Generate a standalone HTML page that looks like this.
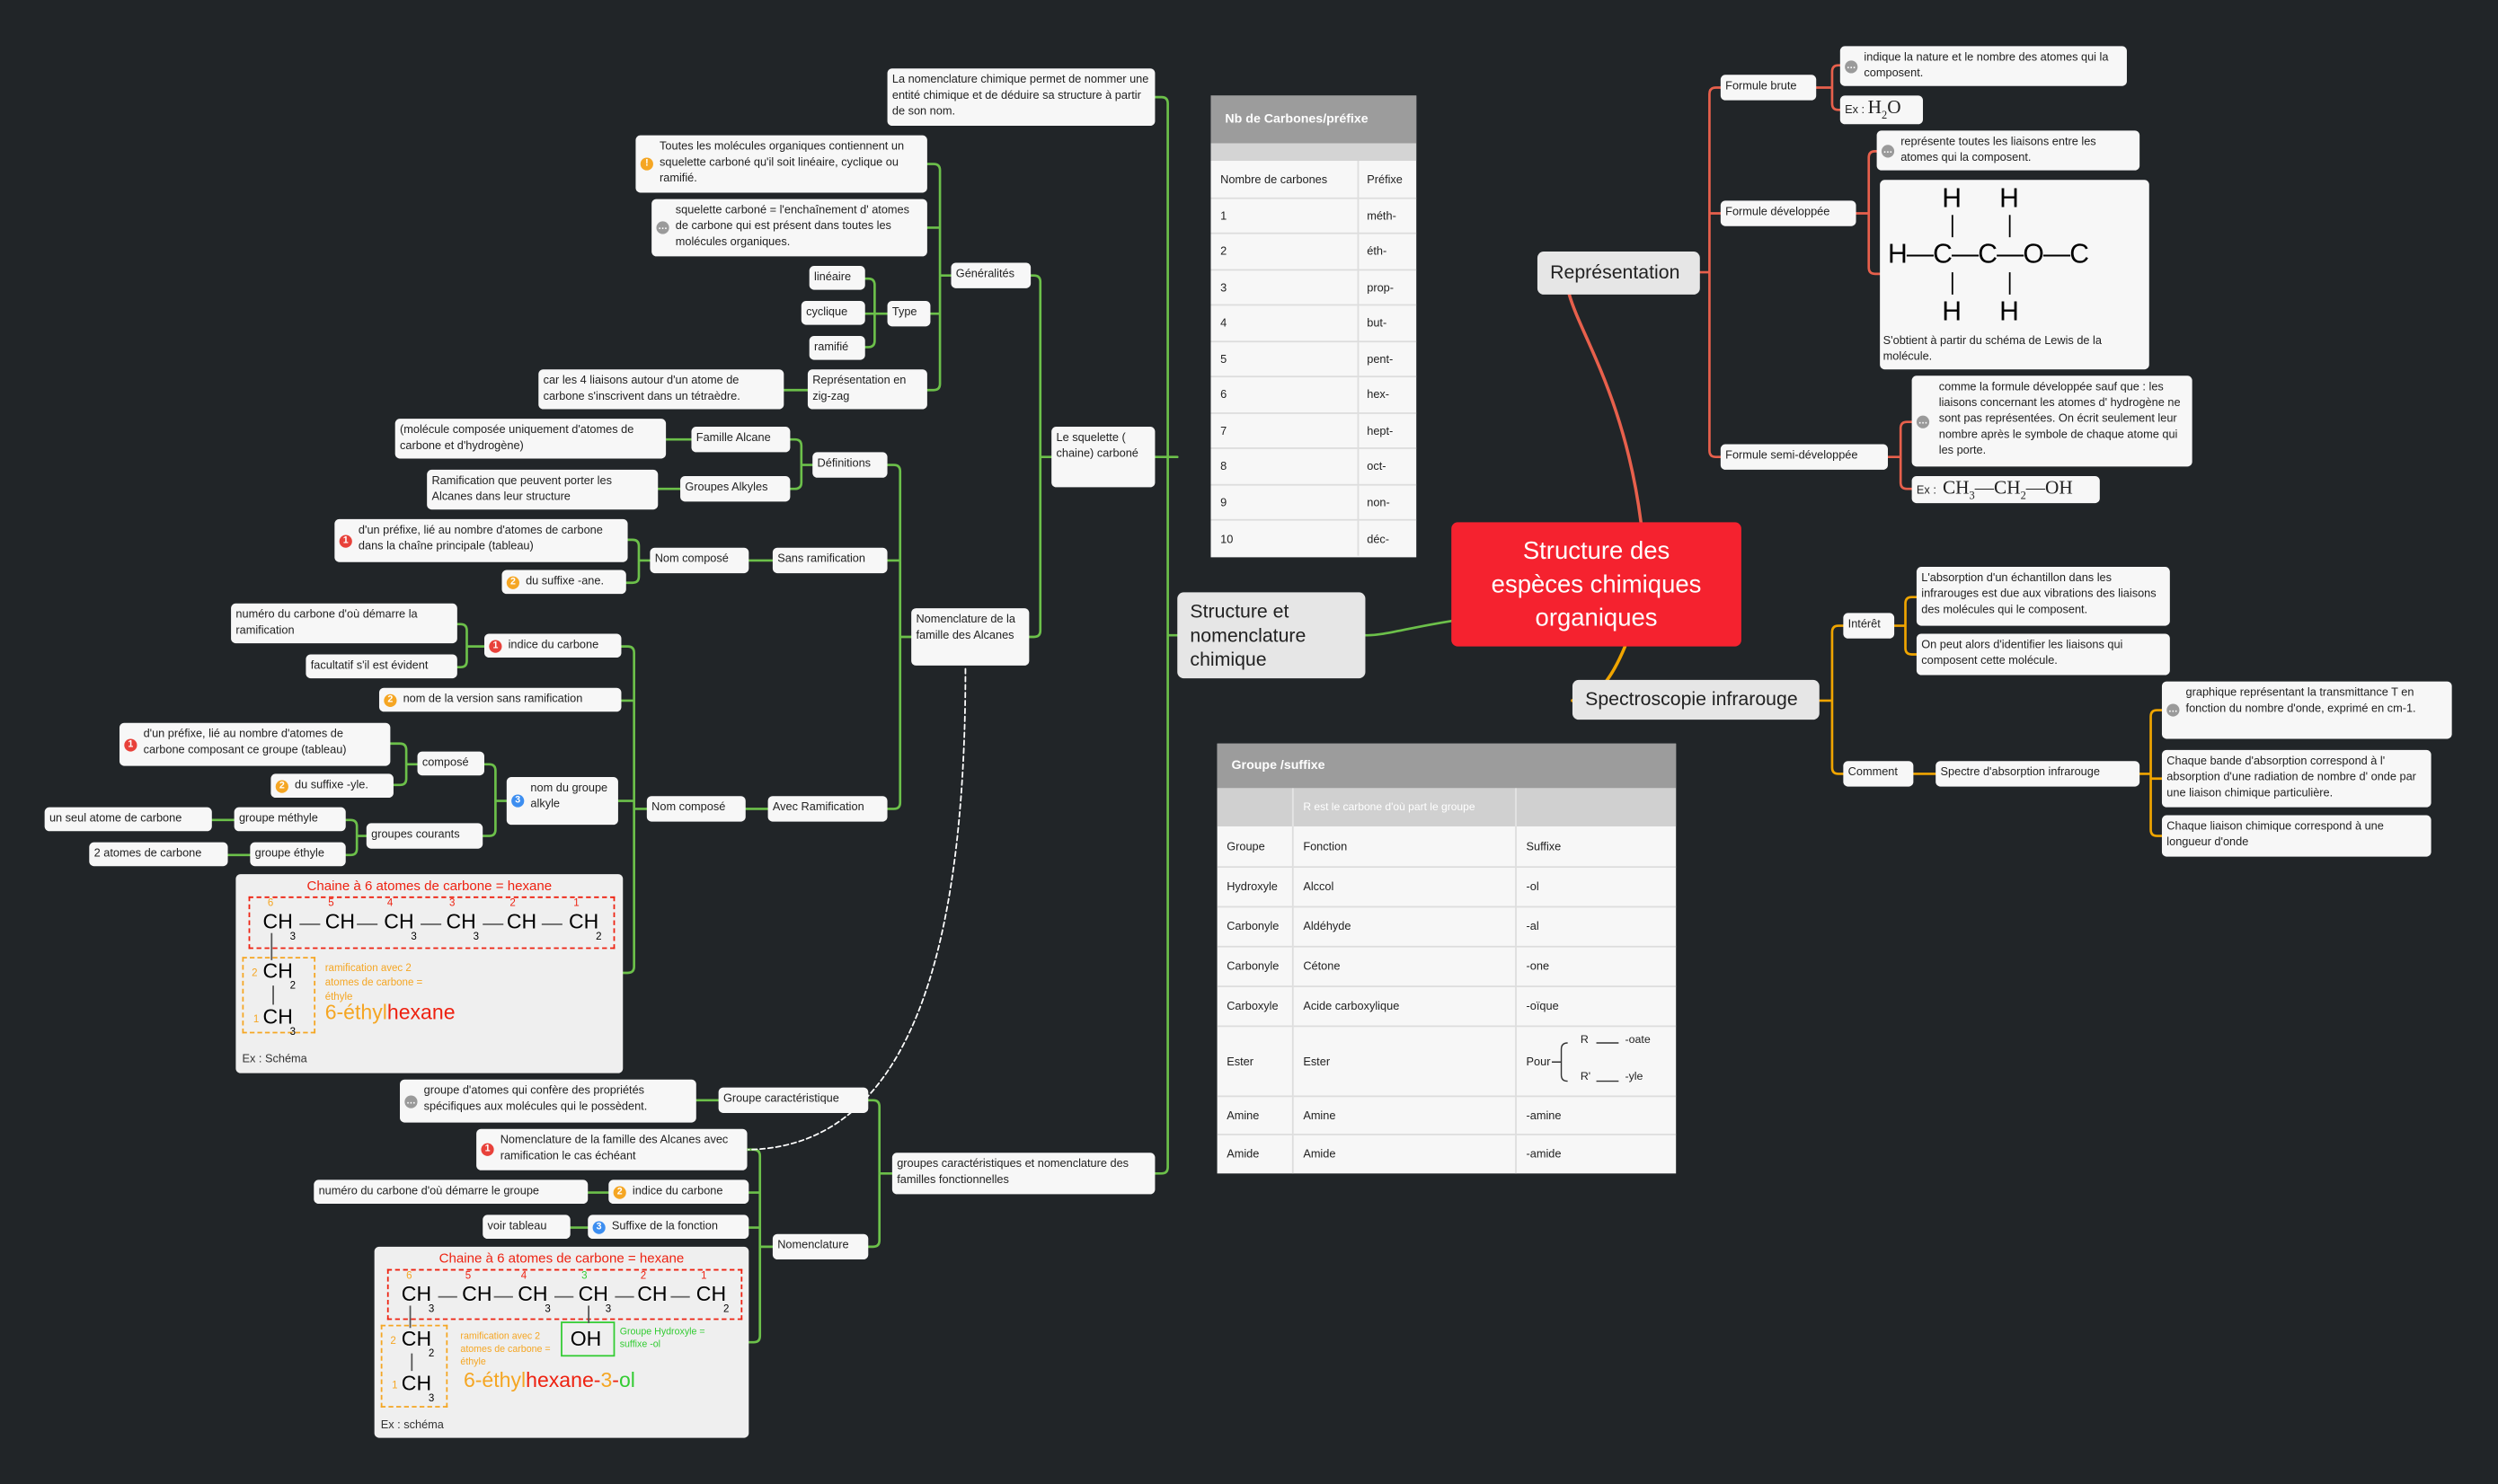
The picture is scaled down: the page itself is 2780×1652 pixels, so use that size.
<!DOCTYPE html>
<html><head><meta charset="utf-8">
<style>
html,body{margin:0;padding:0;width:2780px;height:1652px;overflow:hidden;background:#212528;}
#w{position:absolute;left:0;top:0;width:1568px;height:932px;transform:scale(1.773,1.7725);transform-origin:0 0;font-family:"Liberation Sans","DejaVu Sans",sans-serif;}
.n{position:absolute;background:#f7f7f7;border-radius:3px;font-size:7.2px;line-height:10px;color:#222;padding:2px 3px;box-sizing:border-box;overflow:hidden;}
.c{display:flex;align-items:center;}
.big{background:#e6e6e6;font-size:12px;line-height:15px;border-radius:4px;padding:4px 8px;}
.ic{position:absolute;left:3px;top:50%;margin-top:-4px;width:8px;height:8px;border-radius:50%;color:#fff;font-size:6px;line-height:8px;text-align:center;font-weight:bold;}
.r{background:#e8413a}.o{background:#f5a623}.b{background:#3d8ef0}.g{background:#9a9a9a}
.pi{padding-left:15px}
svg{position:absolute;left:0;top:0}
table{border-collapse:collapse;font-size:7.2px;color:#222}
.ch{position:absolute;font-size:13px;line-height:14px;color:#000;white-space:nowrap;font-family:"Liberation Sans",sans-serif}
.sb{position:absolute;font-size:6.5px;color:#000}
.num{position:absolute;font-size:6.5px;color:#e21}
.dash{position:absolute;height:1px;background:#666;width:13px}
</style></head><body><div id="w">
<svg width="1568" height="932" fill="none" stroke-linecap="round">
<g stroke="#6cc04a" stroke-width="1.5">
<path d="M911,390 C880,395 870,399 857,399"/>
<path d="M739,399 H733 M725,61 H729 Q733,61 733,65 V733 Q733,737 729,737 H725 M725,287 H739"/>
<path d="M660,287 H653 M647,173 H649 Q653,173 653,177 V396 Q653,400 649,400 H646"/>
<path d="M597,173 H590 M582,103 H586 Q590,103 590,107 V241 Q590,245 586,245 H582 M582,143 H590 M584,197 H590"/>
<path d="M557,197 H549 M543,175 H545 Q549,175 549,179 V214 Q549,218 545,218 H543 M543,197 H549"/>
<path d="M507,245 H492"/>
<path d="M572,400 H565 M557,292 H561 Q565,292 565,296 V504 Q565,508 561,508 H557 M557,352 H565"/>
<path d="M510,292 H503 M496,276 H499 Q503,276 503,280 V303 Q503,307 499,307 H496"/>
<path d="M434,276 H418 M427,307 H413 M485,352 H470 M482,508 H468"/>
<path d="M408,352 H401 M394,339 H397 Q401,339 401,343 V362 Q401,366 397,366 H393"/>
<path d="M406,508 H398 M390,406 H394 Q398,406 398,410 V607 Q398,611 394,611 H391 M390,440 H398 M388,503 H398"/>
<path d="M304,406 H293 M287,392 H289 Q293,392 293,396 V415 Q293,419 289,419 H287"/>
<path d="M318,503 H311 M304,480 H307 Q311,480 311,484 V521 Q311,525 307,525 H303"/>
<path d="M262,480 H255 M245,467 H251 Q255,467 255,471 V489 Q255,493 251,493 H247"/>
<path d="M230,525 H224 M217,515 H220 Q224,515 224,519 V533 Q224,537 220,537 H217"/>
<path d="M147,515 H133 M157,537 H143"/>
<path d="M560,737 H552 M545,691 H548 Q552,691 552,695 V779 Q552,783 548,783 H545"/>
<path d="M451,691 H437"/>
<path d="M485,783 H477 M469,722 H473 Q477,722 477,726 V839 Q477,843 473,843 H470 M470,749 H477 M470,771 H477"/>
<path d="M382,749 H369 M369,771 H358"/>
</g>
<g stroke="#e8604c" stroke-width="1.5">
<path d="M1030,328 C1020,250 992,210 985,185" stroke-width="2"/>
<path d="M1067,171 H1073 M1080,55 H1077 Q1073,55 1073,59 V283 Q1073,287 1077,287 H1080 M1073,134 H1080"/>
<path d="M1140,55 H1150 M1155,41 H1154 Q1150,41 1150,45 V65 Q1150,69 1154,69 H1155"/>
<path d="M1165,134 H1173 M1178,95 H1177 Q1173,95 1173,99 V168 Q1173,172 1177,172 H1180"/>
<path d="M1185,287 H1193 M1200,265 H1197 Q1193,265 1193,269 V303 Q1193,307 1197,307 H1200"/>
</g>
<g stroke="#f0a500" stroke-width="1.5">
<path d="M1020,406 C1010,430 1000,440 987,440" stroke-width="2"/>
<path d="M1142,440 H1150 M1157,393 H1154 Q1150,393 1150,397 V482 Q1150,486 1154,486 H1157"/>
<path d="M1189,393 H1196 M1203,375 H1200 Q1196,375 1196,379 V407 Q1196,411 1200,411 H1203"/>
<path d="M1201,486 H1215 M1343,486 H1350 M1357,446 H1354 Q1350,446 1350,450 V521 Q1350,525 1354,525 H1357 M1350,489 H1357"/>
</g>
<path d="M606,420 C606,600 570,720 470,722" stroke="#fff" stroke-width="1" stroke-dasharray="3,2"/>
</svg>

<div class="n c" style="left:911px;top:328px;width:182px;height:78px;background:#f5222f;color:#fff;font-size:15.5px;line-height:21px;text-align:center;justify-content:center;border-radius:4px;padding:0 14px">Structure des espèces chimiques organiques</div>
<div class="n big c" style="left:739px;top:372px;width:118px;height:54px">Structure et nomenclature chimique</div>
<div class="n big c" style="left:965px;top:158px;width:102px;height:27px">Représentation</div>
<div class="n big c" style="left:987px;top:427px;width:155px;height:25px">Spectroscopie infrarouge</div>

<div class="n" style="left:557px;top:43px;width:168px;height:36px">La nomenclature chimique permet de nommer une entité chimique et de déduire sa structure à partir de son nom.</div>
<div class="n" style="left:660px;top:268px;width:65px;height:38px">Le squelette ( chaine) carboné</div>
<div class="n" style="left:560px;top:724px;width:165px;height:26px">groupes caractéristiques et nomenclature des familles fonctionnelles</div>
<div class="n" style="left:597px;top:165px;width:50px;height:16px">Généralités</div>
<div class="n" style="left:572px;top:382px;width:74px;height:36px">Nomenclature de la famille des Alcanes</div>
<div class="n pi" style="left:399px;top:85px;width:183px;height:36px"><span class="ic o">!</span>Toutes les molécules organiques contiennent un squelette carboné qu'il soit linéaire, cyclique ou ramifié.</div>
<div class="n pi" style="left:409px;top:125px;width:173px;height:36px"><span class="ic g">…</span>squelette carboné = l'enchaînement d' atomes de carbone qui est présent dans toutes les molécules organiques.</div>
<div class="n" style="left:557px;top:189px;width:27px;height:16px">Type</div>
<div class="n" style="left:507px;top:232px;width:75px;height:25px">Représentation en zig-zag</div>
<div class="n" style="left:508px;top:167px;width:35px;height:15px">linéaire</div>
<div class="n" style="left:503px;top:189px;width:40px;height:15px">cyclique</div>
<div class="n" style="left:508px;top:211px;width:35px;height:15px">ramifié</div>
<div class="n" style="left:338px;top:232px;width:154px;height:25px">car les 4 liaisons autour d'un atome de carbone s'inscrivent dans un tétraèdre.</div>
<div class="n" style="left:510px;top:284px;width:47px;height:16px">Définitions</div>
<div class="n" style="left:485px;top:344px;width:72px;height:16px">Sans ramification</div>
<div class="n" style="left:482px;top:500px;width:75px;height:16px">Avec Ramification</div>
<div class="n" style="left:434px;top:268px;width:62px;height:16px">Famille Alcane</div>
<div class="n" style="left:427px;top:299px;width:69px;height:16px">Groupes Alkyles</div>
<div class="n" style="left:248px;top:263px;width:170px;height:25px">(molécule composée uniquement d'atomes de carbone et d'hydrogène)</div>
<div class="n" style="left:268px;top:295px;width:145px;height:25px">Ramification que peuvent porter les Alcanes dans leur structure</div>
<div class="n" style="left:408px;top:344px;width:62px;height:16px">Nom composé</div>
<div class="n pi" style="left:210px;top:326px;width:184px;height:27px"><span class="ic r">1</span>d'un préfixe, lié au nombre d'atomes de carbone dans la chaîne principale (tableau)</div>
<div class="n pi" style="left:315px;top:358px;width:78px;height:15px"><span class="ic o">2</span>du suffixe -ane.</div>
<div class="n" style="left:406px;top:500px;width:62px;height:16px">Nom composé</div>
<div class="n pi" style="left:304px;top:398px;width:86px;height:15px"><span class="ic r">1</span>indice du carbone</div>
<div class="n pi" style="left:238px;top:432px;width:152px;height:15px"><span class="ic o">2</span>nom de la version sans ramification</div>
<div class="n pi" style="left:318px;top:488px;width:70px;height:30px"><span class="ic b">3</span>nom du groupe alkyle</div>
<div class="n" style="left:145px;top:379px;width:142px;height:25px">numéro du carbone d'où démarre la ramification</div>
<div class="n" style="left:192px;top:411px;width:95px;height:15px">facultatif s'il est évident</div>
<div class="n" style="left:262px;top:472px;width:42px;height:15px">composé</div>
<div class="n pi" style="left:75px;top:454px;width:170px;height:27px"><span class="ic r">1</span>d'un préfixe, lié au nombre d'atomes de carbone composant ce groupe (tableau)</div>
<div class="n pi" style="left:170px;top:486px;width:77px;height:15px"><span class="ic o">2</span>du suffixe -yle.</div>
<div class="n" style="left:230px;top:517px;width:73px;height:16px">groupes courants</div>
<div class="n" style="left:147px;top:507px;width:70px;height:15px">groupe méthyle</div>
<div class="n" style="left:157px;top:529px;width:60px;height:15px">groupe éthyle</div>
<div class="n" style="left:28px;top:507px;width:105px;height:15px">un seul atome de carbone</div>
<div class="n" style="left:56px;top:529px;width:87px;height:15px">2 atomes de carbone</div>

<!-- schema 1 -->
<div class="n" style="left:148px;top:549px;width:243px;height:125px;background:#efefef;padding:0">
 <div style="position:absolute;left:0;width:243px;top:2px;text-align:center;color:#e21;font-size:8.5px">Chaine à 6 atomes de carbone = hexane</div>
 <div style="position:absolute;left:8px;top:14px;width:230px;height:33px;border:1px dashed #e21;box-sizing:border-box"></div>
 <div style="position:absolute;left:4px;top:52px;width:46px;height:48px;border:1px dashed #f5a623;box-sizing:border-box"></div>
 <span class="ch" style="left:17px;top:23px">CH</span><span class="sb" style="left:34px;top:35px">3</span>
 <div class="dash" style="left:40px;top:31px"></div>
 <span class="ch" style="left:56px;top:23px">CH</span>
 <div class="dash" style="left:76px;top:31px"></div>
 <span class="ch" style="left:93px;top:23px">CH</span><span class="sb" style="left:110px;top:35px">3</span>
 <div class="dash" style="left:116px;top:31px"></div>
 <span class="ch" style="left:132px;top:23px">CH</span><span class="sb" style="left:149px;top:35px">3</span>
 <div class="dash" style="left:155px;top:31px"></div>
 <span class="ch" style="left:170px;top:23px">CH</span>
 <div class="dash" style="left:192px;top:31px"></div>
 <span class="ch" style="left:209px;top:23px">CH</span><span class="sb" style="left:226px;top:35px">2</span>
 <span class="num" style="left:20px;top:14px;color:#f5a623">6</span>
 <span class="num" style="left:58px;top:14px">5</span>
 <span class="num" style="left:95px;top:14px">4</span>
 <span class="num" style="left:134px;top:14px">3</span>
 <span class="num" style="left:172px;top:14px">2</span>
 <span class="num" style="left:212px;top:14px">1</span>
 <div style="position:absolute;left:22px;top:37px;width:1px;height:17px;background:#555"></div>
 <span class="ch" style="left:17px;top:54px">CH</span><span class="sb" style="left:34px;top:66px">2</span>
 <div style="position:absolute;left:23px;top:70px;width:1px;height:12px;background:#555"></div>
 <span class="ch" style="left:17px;top:83px">CH</span><span class="sb" style="left:34px;top:95px">3</span>
 <span class="num" style="left:10px;top:58px;color:#f5a623">2</span>
 <span class="num" style="left:11px;top:87px;color:#f5a623">1</span>
 <div style="position:absolute;left:56px;top:55px;font-size:6.5px;line-height:9px;color:#f5a623;width:70px">ramification avec 2 atomes de carbone = éthyle</div>
 <div style="position:absolute;left:56px;top:82px;font-size:13px;color:#e21"><span style="color:#f5a623">6-éthyl</span>hexane</div>
 <div style="position:absolute;left:4px;top:111px;font-size:7.2px;color:#333">Ex : Schéma</div>
</div>

<div class="n" style="left:451px;top:683px;width:94px;height:16px">Groupe caractéristique</div>
<div class="n pi" style="left:251px;top:678px;width:186px;height:27px"><span class="ic g">…</span>groupe d'atomes qui confère des propriétés spécifiques aux molécules qui le possèdent.</div>
<div class="n" style="left:485px;top:775px;width:60px;height:16px">Nomenclature</div>
<div class="n pi" style="left:299px;top:709px;width:170px;height:26px"><span class="ic r">1</span>Nomenclature de la famille des Alcanes avec ramification le cas échéant</div>
<div class="n pi" style="left:382px;top:741px;width:88px;height:15px"><span class="ic o">2</span>indice du carbone</div>
<div class="n pi" style="left:369px;top:763px;width:101px;height:15px"><span class="ic b">3</span>Suffixe de la fonction</div>
<div class="n" style="left:197px;top:741px;width:172px;height:15px">numéro du carbone d'où démarre le groupe</div>
<div class="n" style="left:303px;top:763px;width:55px;height:15px">voir tableau</div>

<!-- schema 2 -->
<div class="n" style="left:235px;top:783px;width:235px;height:120px;background:#efefef;padding:0">
 <div style="position:absolute;left:0;width:235px;top:2px;text-align:center;color:#e21;font-size:8.5px">Chaine à 6 atomes de carbone = hexane</div>
 <div style="position:absolute;left:8px;top:14px;width:223px;height:32px;border:1px dashed #e21;box-sizing:border-box"></div>
 <div style="position:absolute;left:4px;top:49px;width:42px;height:52px;border:1px dashed #f5a623;box-sizing:border-box"></div>
 <div style="position:absolute;left:117px;top:47px;width:34px;height:22px;border:1px solid #3c3;box-sizing:border-box"></div>
 <span class="ch" style="left:17px;top:23px">CH</span><span class="sb" style="left:34px;top:35px">3</span>
 <div class="dash" style="left:40px;top:31px;width:12px"></div>
 <span class="ch" style="left:55px;top:23px">CH</span>
 <div class="dash" style="left:75px;top:31px;width:12px"></div>
 <span class="ch" style="left:90px;top:23px">CH</span><span class="sb" style="left:107px;top:35px">3</span>
 <div class="dash" style="left:113px;top:31px;width:12px"></div>
 <span class="ch" style="left:128px;top:23px">CH</span><span class="sb" style="left:145px;top:35px">3</span>
 <div class="dash" style="left:151px;top:31px;width:12px"></div>
 <span class="ch" style="left:165px;top:23px">CH</span>
 <div class="dash" style="left:186px;top:31px;width:12px"></div>
 <span class="ch" style="left:202px;top:23px">CH</span><span class="sb" style="left:219px;top:35px">2</span>
 <span class="num" style="left:20px;top:14px;color:#f5a623">6</span>
 <span class="num" style="left:57px;top:14px">5</span>
 <span class="num" style="left:92px;top:14px">4</span>
 <span class="num" style="left:130px;top:14px;color:#3c3">3</span>
 <span class="num" style="left:167px;top:14px">2</span>
 <span class="num" style="left:205px;top:14px">1</span>
 <div style="position:absolute;left:22px;top:37px;width:1px;height:14px;background:#555"></div>
 <div style="position:absolute;left:134px;top:37px;width:1px;height:11px;background:#555"></div>
 <span class="ch" style="left:123px;top:51px">OH</span>
 <span class="ch" style="left:17px;top:51px">CH</span><span class="sb" style="left:34px;top:63px">2</span>
 <div style="position:absolute;left:23px;top:67px;width:1px;height:11px;background:#555"></div>
 <span class="ch" style="left:17px;top:79px">CH</span><span class="sb" style="left:34px;top:91px">3</span>
 <span class="num" style="left:10px;top:55px;color:#f5a623">2</span>
 <span class="num" style="left:11px;top:83px;color:#f5a623">1</span>
 <div style="position:absolute;left:54px;top:53px;font-size:6px;line-height:8px;color:#f5a623;width:62px">ramification avec 2 atomes de carbone = éthyle</div>
 <div style="position:absolute;left:154px;top:50px;font-size:6px;line-height:8px;color:#3c3;width:60px">Groupe Hydroxyle = suffixe -ol</div>
 <div style="position:absolute;left:56px;top:79px;font-size:13px;color:#e21"><span style="color:#f5a623">6-éthyl</span>hexane-<span style="color:#f5a623">3</span>-<span style="color:#3c3">ol</span></div>
 <div style="position:absolute;left:4px;top:107px;font-size:7.2px;color:#333">Ex : schéma</div>
</div>

<!-- table 1 -->
<div style="position:absolute;left:760px;top:60px;width:129px;height:290px;background:#f7f7f7;overflow:hidden">
 <div style="height:30px;background:#9c9c9c;color:#fff;font-weight:bold;font-size:8px;line-height:30px;padding-left:9px">Nb de Carbones/préfixe</div>
 <div style="height:11px;background:#d4d4d4"></div>
 <table style="width:129px">
 <tr style="height:23px"><td style="width:85px;padding-left:6px;border-bottom:1px solid #ddd;border-right:1px solid #ddd">Nombre de carbones</td><td style="padding-left:5px;border-bottom:1px solid #ddd">Préfixe</td></tr>
 <tr style="height:22.5px"><td style="padding-left:6px;border-bottom:1px solid #ddd;border-right:1px solid #ddd">1</td><td style="padding-left:5px;border-bottom:1px solid #ddd">méth-</td></tr>
 <tr style="height:22.5px"><td style="padding-left:6px;border-bottom:1px solid #ddd;border-right:1px solid #ddd">2</td><td style="padding-left:5px;border-bottom:1px solid #ddd">éth-</td></tr>
 <tr style="height:22.5px"><td style="padding-left:6px;border-bottom:1px solid #ddd;border-right:1px solid #ddd">3</td><td style="padding-left:5px;border-bottom:1px solid #ddd">prop-</td></tr>
 <tr style="height:22.5px"><td style="padding-left:6px;border-bottom:1px solid #ddd;border-right:1px solid #ddd">4</td><td style="padding-left:5px;border-bottom:1px solid #ddd">but-</td></tr>
 <tr style="height:22.5px"><td style="padding-left:6px;border-bottom:1px solid #ddd;border-right:1px solid #ddd">5</td><td style="padding-left:5px;border-bottom:1px solid #ddd">pent-</td></tr>
 <tr style="height:22.5px"><td style="padding-left:6px;border-bottom:1px solid #ddd;border-right:1px solid #ddd">6</td><td style="padding-left:5px;border-bottom:1px solid #ddd">hex-</td></tr>
 <tr style="height:22.5px"><td style="padding-left:6px;border-bottom:1px solid #ddd;border-right:1px solid #ddd">7</td><td style="padding-left:5px;border-bottom:1px solid #ddd">hept-</td></tr>
 <tr style="height:22.5px"><td style="padding-left:6px;border-bottom:1px solid #ddd;border-right:1px solid #ddd">8</td><td style="padding-left:5px;border-bottom:1px solid #ddd">oct-</td></tr>
 <tr style="height:22.5px"><td style="padding-left:6px;border-bottom:1px solid #ddd;border-right:1px solid #ddd">9</td><td style="padding-left:5px;border-bottom:1px solid #ddd">non-</td></tr>
 <tr style="height:22.5px"><td style="padding-left:6px;border-right:1px solid #ddd">10</td><td style="padding-left:5px">déc-</td></tr>
 </table>
</div>

<!-- table 2 -->
<div style="position:absolute;left:764px;top:467px;width:288px;height:270px;background:#f7f7f7;overflow:hidden">
 <div style="height:28px;background:#9c9c9c;color:#fff;font-weight:bold;font-size:8px;line-height:28px;padding-left:9px">Groupe /suffixe</div>
 <table style="width:288px">
 <tr style="height:24px;background:#d0d0d0;color:#fff"><td style="width:45px;border-right:1px solid #e4e4e4"></td><td style="width:132px;padding-left:6px;border-right:1px solid #e4e4e4;font-size:6.8px">R est le carbone d'où part le groupe</td><td></td></tr>
 <tr style="height:25px"><td style="padding-left:6px;border-bottom:1px solid #ddd;border-right:1px solid #ddd">Groupe</td><td style="padding-left:6px;border-bottom:1px solid #ddd;border-right:1px solid #ddd">Fonction</td><td style="padding-left:6px;border-bottom:1px solid #ddd">Suffixe</td></tr>
 <tr style="height:25px"><td style="padding-left:6px;border-bottom:1px solid #ddd;border-right:1px solid #ddd">Hydroxyle</td><td style="padding-left:6px;border-bottom:1px solid #ddd;border-right:1px solid #ddd">Alccol</td><td style="padding-left:6px;border-bottom:1px solid #ddd">-ol</td></tr>
 <tr style="height:25px"><td style="padding-left:6px;border-bottom:1px solid #ddd;border-right:1px solid #ddd">Carbonyle</td><td style="padding-left:6px;border-bottom:1px solid #ddd;border-right:1px solid #ddd">Aldéhyde</td><td style="padding-left:6px;border-bottom:1px solid #ddd">-al</td></tr>
 <tr style="height:25px"><td style="padding-left:6px;border-bottom:1px solid #ddd;border-right:1px solid #ddd">Carbonyle</td><td style="padding-left:6px;border-bottom:1px solid #ddd;border-right:1px solid #ddd">Cétone</td><td style="padding-left:6px;border-bottom:1px solid #ddd">-one</td></tr>
 <tr style="height:25px"><td style="padding-left:6px;border-bottom:1px solid #ddd;border-right:1px solid #ddd">Carboxyle</td><td style="padding-left:6px;border-bottom:1px solid #ddd;border-right:1px solid #ddd">Acide carboxylique</td><td style="padding-left:6px;border-bottom:1px solid #ddd">-oïque</td></tr>
 <tr style="height:44px"><td style="padding-left:6px;border-bottom:1px solid #ddd;border-right:1px solid #ddd">Ester</td><td style="padding-left:6px;border-bottom:1px solid #ddd;border-right:1px solid #ddd">Ester</td><td style="padding-left:6px;border-bottom:1px solid #ddd;position:relative">Pour
  <svg width="70" height="34" style="left:22px;top:5px" fill="none" stroke="#333" stroke-width="0.8"><path d="M0,17 H6 M10,5 Q6,5 6,9 V25 Q6,29 10,29"/><path d="M28,5 H42 M28,29 H42"/></svg>
  <span style="position:absolute;left:40px;top:5px;font-size:7px">R</span><span style="position:absolute;left:68px;top:5px;font-size:7px">-oate</span>
  <span style="position:absolute;left:40px;top:28px;font-size:7px">R'</span><span style="position:absolute;left:68px;top:28px;font-size:7px">-yle</span></td></tr>
 <tr style="height:24px"><td style="padding-left:6px;border-bottom:1px solid #ddd;border-right:1px solid #ddd">Amine</td><td style="padding-left:6px;border-bottom:1px solid #ddd;border-right:1px solid #ddd">Amine</td><td style="padding-left:6px;border-bottom:1px solid #ddd">-amine</td></tr>
 <tr style="height:25px"><td style="padding-left:6px;border-right:1px solid #ddd">Amide</td><td style="padding-left:6px;border-right:1px solid #ddd">Amide</td><td style="padding-left:6px">-amide</td></tr>
 </table>
</div>

<div class="n" style="left:1080px;top:47px;width:60px;height:16px">Formule brute</div>
<div class="n" style="left:1080px;top:126px;width:85px;height:16px">Formule développée</div>
<div class="n" style="left:1080px;top:279px;width:105px;height:16px">Formule semi-développée</div>
<div class="n pi" style="left:1155px;top:29px;width:180px;height:25px"><span class="ic g">…</span>indique la nature et le nombre des atomes qui la composent.</div>
<div class="n" style="left:1155px;top:60px;width:52px;height:18px;white-space:nowrap">Ex : <span style="font-family:'Liberation Serif',serif;font-size:12px">H<sub style="font-size:7px">2</sub>O</span></div>
<div class="n pi" style="left:1178px;top:82px;width:165px;height:25px"><span class="ic g">…</span>représente toutes les liaisons entre les atomes qui la composent.</div>
<div class="n" style="left:1180px;top:113px;width:169px;height:119px;padding:0">
 <span class="ch" style="font-size:17px;line-height:18px;left:39px;top:3px">H</span><span class="ch" style="font-size:17px;line-height:18px;left:75px;top:3px">H</span>
 <span class="ch" style="font-size:17px;line-height:18px;left:5px;top:38px;letter-spacing:-0.5px">H—C—C—O—C</span>
 <div style="position:absolute;left:45px;top:22px;width:1px;height:14px;background:#000"></div>
 <div style="position:absolute;left:81px;top:22px;width:1px;height:14px;background:#000"></div>
 <div style="position:absolute;left:45px;top:58px;width:1px;height:14px;background:#000"></div>
 <div style="position:absolute;left:81px;top:58px;width:1px;height:14px;background:#000"></div>
 <span class="ch" style="font-size:17px;line-height:18px;left:39px;top:74px">H</span><span class="ch" style="font-size:17px;line-height:18px;left:75px;top:74px">H</span>
 <div style="position:absolute;left:2px;top:96px;font-size:7.2px;line-height:10px;color:#222">S'obtient à partir du schéma de Lewis de la molécule.</div>
</div>
<div class="n pi" style="left:1200px;top:236px;width:176px;height:57px;padding-left:17px"><span class="ic g">…</span>comme la formule développée sauf que : les liaisons concernant les atomes d' hydrogène ne sont pas représentées. On écrit seulement leur nombre après le symbole de chaque atome qui les porte.</div>
<div class="n" style="left:1200px;top:299px;width:118px;height:17px;white-space:nowrap">Ex : &nbsp;<span style="font-family:'Liberation Serif',serif;font-size:12px">CH<sub style="font-size:7px">3</sub>—CH<sub style="font-size:7px">2</sub>—OH</span></div>

<div class="n" style="left:1157px;top:385px;width:32px;height:16px">Intérêt</div>
<div class="n" style="left:1157px;top:478px;width:44px;height:16px">Comment</div>
<div class="n" style="left:1203px;top:356px;width:159px;height:37px">L'absorption d'un échantillon dans les infrarouges est due aux vibrations des liaisons des molécules qui le composent.</div>
<div class="n" style="left:1203px;top:398px;width:159px;height:26px">On peut alors d'identifier les liaisons qui composent cette molécule.</div>
<div class="n" style="left:1215px;top:478px;width:128px;height:16px">Spectre d'absorption infrarouge</div>
<div class="n pi" style="left:1357px;top:428px;width:182px;height:36px"><span class="ic g">…</span>graphique représentant la transmittance T en fonction du nombre d'onde, exprimé en cm-1.</div>
<div class="n" style="left:1357px;top:471px;width:169px;height:36px">Chaque bande d'absorption correspond à l' absorption d'une radiation de nombre d' onde par une liaison chimique particulière.</div>
<div class="n" style="left:1357px;top:512px;width:169px;height:26px">Chaque liaison chimique correspond à une longueur d'onde</div>
</div></body></html>
